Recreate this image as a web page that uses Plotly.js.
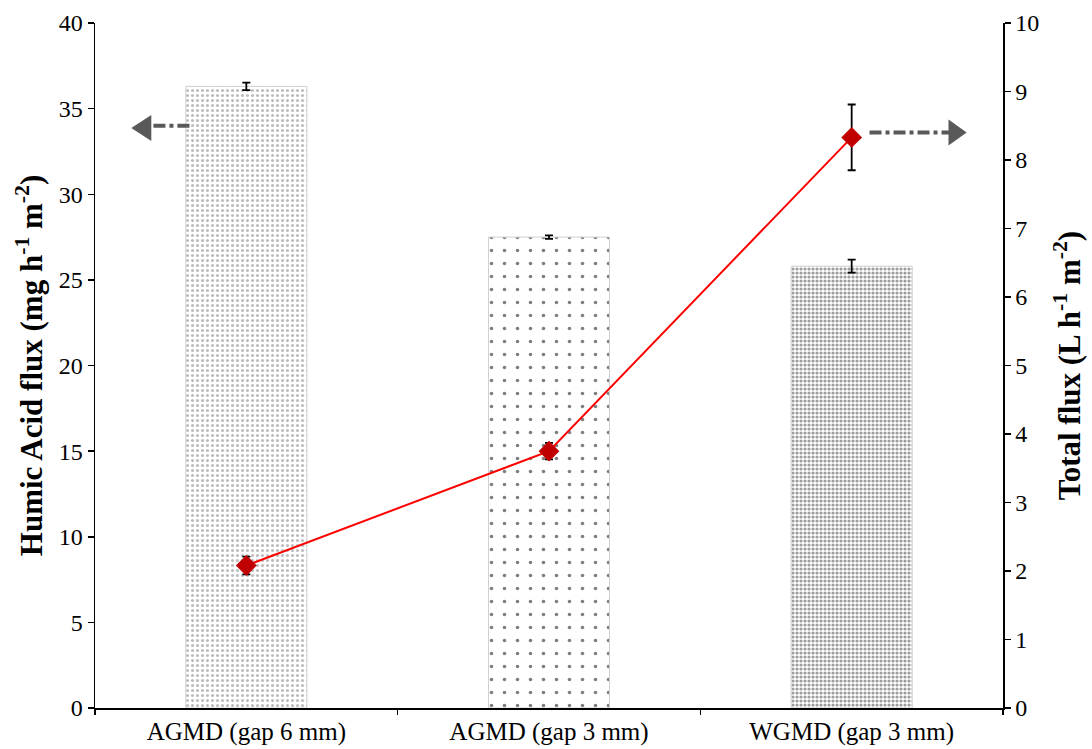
<!DOCTYPE html>
<html>
<head>
<meta charset="utf-8">
<script src="https://cdn.plot.ly/plotly-3.0.1.min.js"></script>
<style>
  html, body { margin: 0; padding: 0; background: #fff; }
  #chart { width: 1092px; height: 749px; }
</style>
</head>
<body>
<div id="chart"></div>
<script>
// Configurations compared
const categories = ['AGMD (gap 6 mm)', 'AGMD (gap 3 mm)', 'WGMD (gap 3 mm)'];

// Humic acid flux (mg h-1 m-2), left axis
const humicFlux = [36.3, 27.5, 25.8];
const humicErr = [0.22, 0.1, 0.38];

// Total flux (L h-1 m-2), right axis
const totalFlux = [2.08, 3.75, 8.33];
const totalErr = [0.13, 0.12, 0.48];

// Pattern fill per bar
const barPatterns = [
  { shape: '.', fgcolor: '#7a7a7a', bgcolor: '#ffffff', size: 5, solidity: 0.3 },
  { shape: '.', fgcolor: '#000000', bgcolor: '#ffffff', size: 13, solidity: 0.06 },
  { shape: '.', fgcolor: '#3a3a3a', bgcolor: '#ffffff', size: 4, solidity: 0.5 }
];

const serif = 'Liberation Serif, Times New Roman, serif';

const bars = {
  type: 'bar',
  x: categories,
  y: humicFlux,
  width: 0.4,
  marker: {
    color: '#ffffff',
    line: { color: '#d0d0d0', width: 1 },
    pattern: {
      shape: barPatterns.map(p => p.shape),
      fgcolor: barPatterns.map(p => p.fgcolor),
      bgcolor: barPatterns.map(p => p.bgcolor),
      size: barPatterns.map(p => p.size),
      solidity: barPatterns.map(p => p.solidity),
      fillmode: 'overlay'
    }
  },
  error_y: { type: 'data', array: humicErr, visible: true, color: '#000', thickness: 1.8, width: 4 },
  yaxis: 'y',
  showlegend: false,
  hoverinfo: 'skip'
};

const line = {
  type: 'scatter',
  mode: 'lines+markers',
  x: categories,
  y: totalFlux,
  yaxis: 'y2',
  line: { color: '#ff0000', width: 2 },
  marker: { symbol: 'diamond', size: 16, color: '#c00000' },
  error_y: { type: 'data', array: totalErr, visible: true, color: '#000', thickness: 1.8, width: 4 },
  showlegend: false
};

// Dash-dot arrows that point each series to its axis
const arrowColor = '#595959';
const shapes = [
  { type: 'line', xref: 'paper', yref: 'y', x0: 0.104, x1: 0.055, y0: 34, y1: 34,
    line: { color: arrowColor, width: 4, dash: 'dashdot' } },
  { type: 'path', xref: 'paper', yref: 'paper',
    path: 'M 0.040 0.8467 L 0.062 0.8657 L 0.062 0.8277 Z',
    fillcolor: arrowColor, line: { width: 0 } },
  { type: 'line', xref: 'paper', yref: 'y', x0: 0.853, x1: 0.945, y0: 33.6, y1: 33.6,
    line: { color: arrowColor, width: 4, dash: 'dashdot' } },
  { type: 'path', xref: 'paper', yref: 'paper',
    path: 'M 0.960 0.840 L 0.940 0.859 L 0.940 0.821 Z',
    fillcolor: arrowColor, line: { width: 0 } }
];

const layout = {
  width: 1092,
  height: 749,
  paper_bgcolor: '#ffffff',
  plot_bgcolor: '#ffffff',
  margin: { l: 95, r: 89, t: 23, b: 41 },
  font: { family: serif, size: 24, color: '#000' },
  bargap: 0.6,
  xaxis: {
    type: 'category',
    showline: true, linecolor: '#000', linewidth: 1.5,
    ticks: 'outside', ticklen: 5, tickcolor: '#000', tickwidth: 1.5,
    tickson: 'boundaries',
    showgrid: false, zeroline: false,
    automargin: false,
    tickfont: { family: serif, size: 25 }
  },
  yaxis: {
    range: [0, 40], dtick: 5,
    showline: true, linecolor: '#000', linewidth: 1.5,
    ticks: 'outside', ticklen: 6, tickcolor: '#000', tickwidth: 1.5,
    showgrid: false, zeroline: false,
    automargin: false,
    tickfont: { family: serif, size: 24 },
    title: { text: '<b>Humic Acid flux (mg h<sup>-1</sup> m<sup>-2</sup>)</b>', font: { family: serif, size: 31 }, standoff: 7 }
  },
  yaxis2: {
    range: [0, 10], dtick: 1,
    overlaying: 'y', side: 'right',
    showline: true, linecolor: '#000', linewidth: 1.5,
    ticks: 'outside', ticklen: 6, tickcolor: '#000', tickwidth: 1.5,
    showgrid: false, zeroline: false,
    automargin: false,
    tickfont: { family: serif, size: 24 },
    title: { text: '<b>Total flux (L h<sup>-1</sup> m<sup>-2</sup>)</b>', font: { family: serif, size: 31 }, standoff: 20 }
  },
  shapes: shapes
};

Plotly.newPlot('chart', [bars, line], layout, { displayModeBar: false, staticPlot: true });
</script>
</body>
</html>
